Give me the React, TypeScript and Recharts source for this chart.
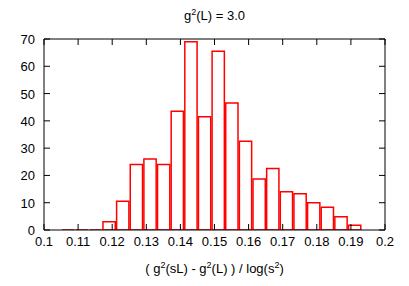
import { BarChart, Bar, XAxis, YAxis, Label } from 'recharts';

// histogram bins (width 0.004), centre of each bin
const binCenters = [
  0.107, 0.111, 0.115, 0.119, 0.123, 0.127, 0.131, 0.135, 0.139, 0.143, 0.147,
  0.151, 0.155, 0.159, 0.163, 0.167, 0.171, 0.175, 0.179, 0.183, 0.187, 0.191,
];
const counts = [
  0, 0, 0, 3, 10.5, 24, 26, 24, 43.5, 69, 41.5,
  65.5, 46.5, 32.5, 18.7, 22.5, 14, 13.3, 10, 8.3, 4.9, 1.7,
];
const xTicks = [0.1, 0.11, 0.12, 0.13, 0.14, 0.15, 0.16, 0.17, 0.18, 0.19, 0.2];
const yTicks = [0, 10, 20, 30, 40, 50, 60, 70];

const data = binCenters.map((c, i) => ({ x: c, n: counts[i] }));

const FONT = '"Liberation Sans", Arial, sans-serif';
const FS = 13;
const TICK_LEN = 6;

// gnuplot-style box outline, zero bins show as a flat line
const HistBox = (props: any) => {
  const { x, y, width, height } = props;
  const bottom = y + height;
  return (
    <path
      d={`M${x},${bottom}V${y}H${x + width}V${bottom}Z`}
      fill="none"
      stroke="#ff0000"
      strokeWidth={1.5}
    />
  );
};

const BottomTick = ({ x, y, payload }: any) => (
  <g>
    <line x1={x} y1={y} x2={x} y2={y - TICK_LEN} stroke="#000" />
    <text x={x} y={y + 16} textAnchor="middle" fontSize={FS} fontFamily={FONT} fill="#000">
      {String(payload.value)}
    </text>
  </g>
);

const TopTick = ({ x, y }: any) => (
  <line x1={x} y1={y} x2={x} y2={y + TICK_LEN} stroke="#000" />
);

const LeftTick = ({ x, y, payload }: any) => (
  <g>
    <line x1={x} y1={y} x2={x + TICK_LEN} y2={y} stroke="#000" />
    <text x={x - 9} y={y + 5} textAnchor="end" fontSize={FS} fontFamily={FONT} fill="#000">
      {payload.value}
    </text>
  </g>
);

const RightTick = ({ x, y }: any) => (
  <line x1={x} y1={y} x2={x - TICK_LEN} y2={y} stroke="#000" />
);

const XLabel = ({ viewBox }: any) => {
  const cx = viewBox.x + viewBox.width / 2;
  return (
    <text x={cx} y={viewBox.y + 43} textAnchor="middle" fontSize={FS} fontFamily={FONT} fill="#000">
      <tspan>( g</tspan>
      <tspan fontSize={9} dy={-5}>2</tspan>
      <tspan dy={5}>(sL) - g</tspan>
      <tspan fontSize={9} dy={-5}>2</tspan>
      <tspan dy={5}>(L) ) / log(s</tspan>
      <tspan fontSize={9} dy={-5}>2</tspan>
      <tspan dy={5}>)</tspan>
    </text>
  );
};

const Title = ({ viewBox }: any) => {
  const cx = viewBox.x + viewBox.width / 2;
  return (
    <text x={cx} y={viewBox.y - 18} textAnchor="middle" fontSize={FS} fontFamily={FONT} fill="#000">
      <tspan>g</tspan>
      <tspan fontSize={9} dy={-5}>2</tspan>
      <tspan dy={5}>(L) = 3.0</tspan>
    </text>
  );
};

export default function App() {
  return (
    <div style={{ width: 409, height: 286, background: '#fff' }}>
      <style>{'body{margin:0}'}</style>
      <BarChart
        width={409}
        height={286}
        data={data}
        margin={{ top: 38, right: 23, bottom: 0, left: 0 }}
      >
        <XAxis
          xAxisId="b"
          dataKey="x"
          type="number"
          domain={[0.1, 0.2]}
          ticks={xTicks}
          allowDataOverflow
          height={56}
          tickSize={0}
          tickMargin={0}
          tickLine={false}
          tick={<BottomTick />}
          axisLine={{ stroke: '#000' }}
          interval={0}
        >
          <Label content={<XLabel />} />
        </XAxis>
        <XAxis
          xAxisId="t"
          dataKey="x"
          orientation="top"
          type="number"
          domain={[0.1, 0.2]}
          ticks={xTicks}
          allowDataOverflow
          height={1}
          tickSize={0}
          tickMargin={0}
          tickLine={false}
          tick={<TopTick />}
          axisLine={{ stroke: '#000' }}
          interval={0}
        >
          <Label content={<Title />} />
        </XAxis>
        <YAxis
          yAxisId="l"
          type="number"
          domain={[0, 70]}
          ticks={yTicks}
          allowDataOverflow
          width={44}
          tickSize={0}
          tickMargin={0}
          tickLine={false}
          tick={<LeftTick />}
          axisLine={{ stroke: '#000' }}
          interval={0}
        />
        <YAxis
          yAxisId="r"
          orientation="right"
          type="number"
          domain={[0, 70]}
          ticks={yTicks}
          allowDataOverflow
          width={1}
          tickSize={0}
          tickMargin={0}
          tickLine={false}
          tick={<RightTick />}
          axisLine={{ stroke: '#000' }}
          interval={0}
        />
        <Bar
          xAxisId="b"
          yAxisId="l"
          dataKey="n"
          barSize={13.64}
          shape={<HistBox />}
          isAnimationActive={false}
        />
      </BarChart>
    </div>
  );
}
